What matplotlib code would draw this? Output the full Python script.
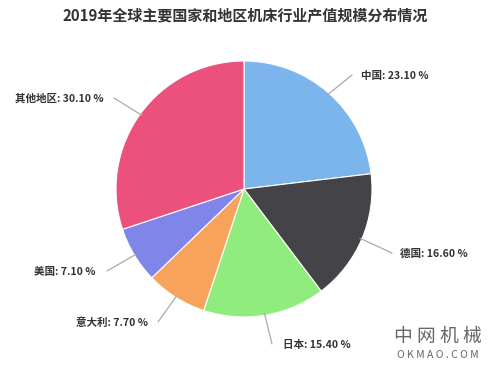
import numpy as np
import matplotlib
matplotlib.use("Agg")
import matplotlib.pyplot as plt

plt.rcParams['font.family'] = ['Noto Sans CJK SC', 'DejaVu Sans']

title = "2019年全球主要国家和地区机床行业产值规模分布情况"
categories = ["中国", "德国", "日本", "意大利", "美国", "其他地区"]
shares = [23.10, 16.60, 15.40, 7.70, 7.10, 30.10]
colors = ["#7cb5ec", "#434348", "#90ed7d", "#f7a35c", "#8085e9", "#ec517e"]

W, H = 500, 365
fig = plt.figure(figsize=(W / 100, H / 100), dpi=100)
ax = fig.add_axes([0, 0, 1, 1])

cx, cy, R = 244, H - 189, 128
wedges, _ = ax.pie(shares, colors=colors, startangle=90, counterclock=False,
                   center=(cx, cy), radius=R, frame=True,
                   wedgeprops=dict(edgecolor='white', linewidth=0.8))
ax.set_xlim(0, W)
ax.set_ylim(0, H)
ax.set_aspect('equal')
ax.axis('off')

# label layout: (end of connector x, y in pixels from top, text x, ha)
layout = [
    (352, 75, 361, 'left'),
    (392, 253, 400, 'left'),
    (272, 344, 283, 'left'),
    (158, 322, 148, 'right'),
    (107, 271, 96, 'right'),
    (114, 98, 104, 'right'),
]

for w, cat, val, (ex, ey, tx, ha) in zip(wedges, categories, shares, layout):
    ang = np.deg2rad((w.theta1 + w.theta2) / 2)
    px = cx + (R - 2) * np.cos(ang)
    py = cy + (R - 2) * np.sin(ang)
    ax.plot([px, ex], [py, H - ey], color='#aaaaaa', lw=0.9, solid_capstyle='round')
    ax.text(tx, H - ey - 1, f"{cat}: {val:.2f} %", ha=ha, va='center',
            fontsize=7.6, fontweight='bold', color='#333333')

ax.text(245, H - 15, title, ha='center', va='center', fontsize=10.8,
        fontweight='bold', color='#333333')

# watermark
ax.text(438, H - 336, "中 网 机 械", ha='center', va='center', fontsize=13.5,
        color='#666666')
ax.text(438, H - 355, "O K M A O . C O M", ha='center', va='center', fontsize=7.5,
        color='#666666')

fig.savefig("out.png", dpi=100)
